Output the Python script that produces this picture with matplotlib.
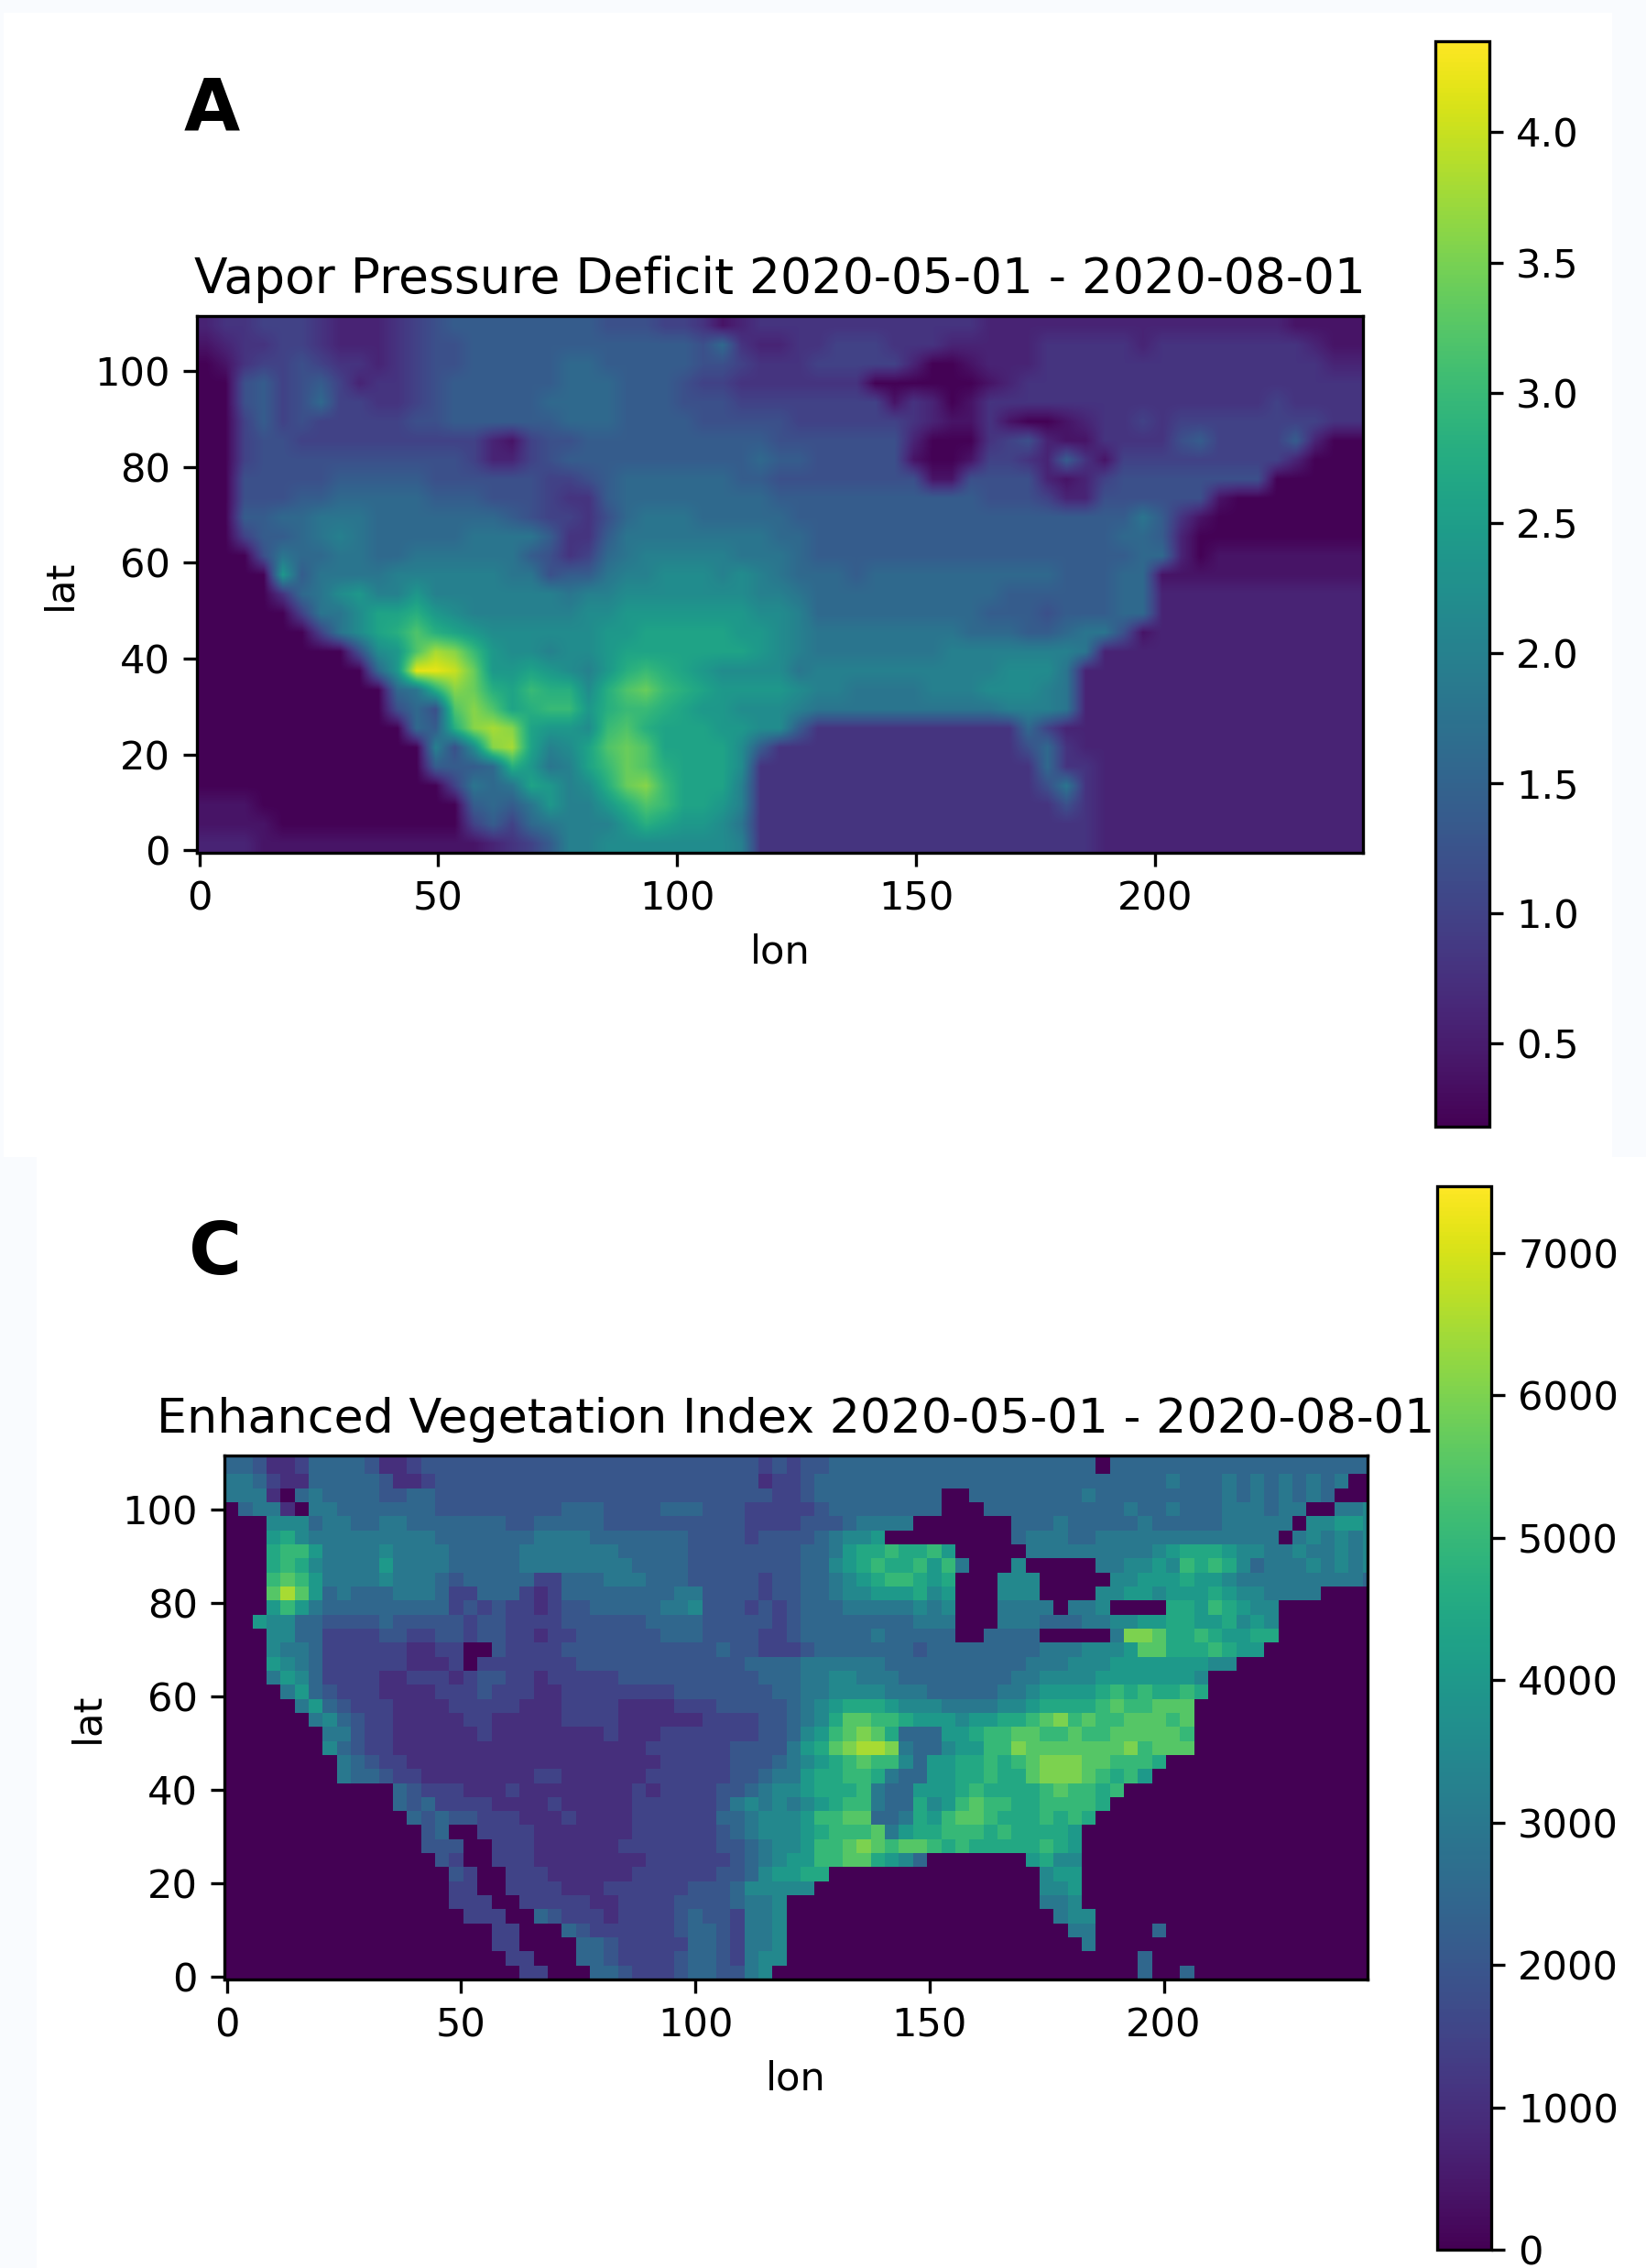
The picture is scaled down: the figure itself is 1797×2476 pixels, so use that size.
#!/usr/bin/env python3
import matplotlib
matplotlib.use("Agg")
import matplotlib.pyplot as plt
import numpy as np
from matplotlib.patches import Rectangle

W, H = 1797, 2476

plt.rcParams["font.size"] = 10.4

# values, one character per cell, top row first
# vapor pressure deficit: 4 x 4 cells, level * 0.2 + 0.2
vpd_rows = [
    "2334443222" "3456666666" "6555443123" "3333333333" "3222222222" "22222221111",
    "1233443222" "3455666666" "6666665732" "2334443332" "2222333332" "33333333211",
    "0134454332" "3455666667" "7666665543" "3344444200" "1222333333" "33333333322",
    "0056456423" "3456666667" "7766654433" "3333300000" "0123333333" "33333333333",
    "0056457443" "3456666677" "7766655544" "4444441320" "1333333333" "33333343333",
    "0046454444" "4556666667" "7766665555" "5444444321" "1310012334" "34444444433",
    "0045544444" "4444421455" "6666666666" "5555555200" "0345211333" "35644446200",
    "0045555555" "5555422456" "6666666667" "6655555100" "1443263144" "44444442000",
    "0055555666" "6655555544" "5677777766" "5555555511" "5555212455" "55555500000",
    "0055566777" "7766655543" "3677777777" "6666666666" "6555422555" "55510000000",
    "0066778887" "7777776544" "3578887777" "7666666666" "6666666668" "63100000000",
    "0046678987" "7777888863" "3688888888" "7766666666" "6666666677" "62000000000",
    "0005877887" "7888888653" "4789999988" "8766666666" "6666666667" "72011111111",
    "0000b68888" "9999998856" "6899aaa9a9" "8777677777" "7777766677" "11111111111",
    "0000378ab9" "9b99999998" "99aaaaaaa9" "9877777777" "7766666677" "22222222222",
    "00000488ac" "cdba999999" "aabbbbbbba" "a977777777" "7666566677" "22222222222",
    "00000048ac" "dfdcbaaaaa" "abbcccccbb" "a988888888" "7776678851" "22222222222",
    "000000005a" "bfihebaa9a" "abcccccccb" "a988888889" "9999998222" "22222222222",
    "0000000007" "bkkjgbbcba" "9bdedcbaaa" "a899999999" "99aaa82222" "22222222222",
    "0000000000" "78dhgdcedd" "adfgedcbbb" "ba99888899" "9aaa982222" "22222222222",
    "0000000000" "575fhfcdee" "bdeedcbbaa" "a988888888" "8899982222" "22222222222",
    "0000000000" "076dhihcbb" "aefdcccbba" "a633333333" "3337422222" "22222222222",
    "0000000000" "0095ahic9a" "cfgfcccca6" "3333333333" "3335732222" "22222222222",
    "0000000000" "006667db89" "cegfdccca3" "3333333333" "3333733222" "22222222222",
    "0000000000" "0004878cb9" "adgheccc93" "3333333333" "3333583222" "22222222222",
    "1110000000" "00006768b9" "9bdfeccb93" "3333333333" "3333353222" "22222222222",
    "1111000000" "0000464789" "99bdcbba83" "3333333333" "3333333222" "22222222222",
    "2221111111" "1111123469" "9aaaaaaa93" "3333333333" "3333333222" "22222222222",
]

# enhanced vegetation index: 3 x 3 cells, level * 500, short rows end in water
evi_rows = [
    "5542235555" "4223444444" "4444444444" "4444444434" "3445555555" "5555555555" "5505555555" "555555555555",
    "5542235555" "4223444444" "4444444444" "4444444434" "3445555555" "5555555555" "5505555555" "555555555555",
    "6653225555" "5422344444" "4444444444" "4444444423" "3455555555" "5555555555" "5555555655" "565656565600",
    "6662056555" "5445544444" "4444444444" "4444444443" "3455555555" "5005555555" "5655555555" "565656565000",
    "0566206655" "5555544444" "4444555444" "4555444333" "3345555555" "5000555555" "5555655655" "566656600667",
    "0007775665" "5665555555" "4455555444" "4444444333" "3444566660" "0000005556" "5555565555" "566666077887",
    "0008976666" "6666655555" "5566665555" "5554444344" "4456778000" "0000005666" "5566666666" "666660676767",
    "0009aa8666" "6766665555" "5666666655" "5554444444" "4556899a99" "a800000666" "6666667899" "987766766767",
    "0009a97666" "6866665555" "5666666665" "5554444444" "455789a99a" "8a60007000" "00667787a9" "a97566676767",
    "000aba8666" "6766654555" "5533555666" "5554444434" "4556789aa9" "8900077700" "0007788898" "876666666665",
    "000bdb8565" "5566653355" "5323555555" "5566444434" "4556778889" "7800077700" "0077887888" "987766660000",
    "0008a86555" "5555553434" "3323445555" "5667444343" "4555666667" "6700066660" "6670000998" "a98770000000",
    "0087755444" "4544444344" "3333444444" "5555444443" "4555555556" "6600066655" "5667788998" "897870000000",
    "0007755333" "3443344344" "3323344444" "4555444433" "4555556555" "5500555500" "0006ccb99a" "988990000000",
    "0007665333" "3332233004" "3333444444" "4444454433" "3455555554" "5555555566" "67778bb999" "a98800000000",
    "0008765333" "3332223033" "3333344444" "4444444555" "5666666555" "5555555666" "7778888888" "77",
    "0006875333" "3223332344" "3323333344" "4444444455" "5667766655" "5555556677" "7788888887",
    "0000685433" "3222233343" "3322333333" "3344444445" "5667777666" "5555566788" "889a9a99a9",
    "0000068543" "3322223333" "3222333322" "2233344444" "5678999877" "7666677899" "99abaabbb0",
    "0000006754" "3322222332" "2222333322" "2222333344" "5679bbaa98" "8878899abc" "abaabbbab0",
    "0000000664" "3322222232" "2222222322" "2333333344" "578abcb955" "5889aabbaa" "baabbbbba0",
    "0000000754" "3322222222" "2222222222" "3333334444" "689bcddc65" "5788aacbbb" "bbbbcabbb0",
    "0000000065" "4332222222" "2222222222" "2333334445" "6789abaa75" "8899a9abcc" "cbbaaa9000",
    "0000000065" "5433222222" "2233222222" "3333334456" "6899aa9655" "8899a99bcc" "cba9a80000",
    "0000000000" "0054333222" "3222222223" "2333344567" "78999a6558" "889a9999ab" "aa9a",
    "0000000000" "0054533332" "2223222223" "3333346767" "6789aa6559" "78abaa99aa" "aa9",
    "0000000000" "0005454433" "3222322223" "3333355677" "78aabb5569" "8abba999a9" "a9",
    "0000000000" "0000450033" "3322222223" "3333345677" "789aaab689" "9aaa9a9999" "8",
    "0000000000" "0000444003" "3322222233" "3333344567" "78aabcbabb" "a9a99999a9" "8",
    "0000000000" "0000043003" "3322222222" "3333334567" "88aabb9875" "0000000897" "7",
    "0000000000" "0000004300" "3332222223" "3333344578" "8990000000" "0000000078" "8",
    "0000000000" "0000003300" "3333222333" "3334445777" "7700000000" "0000000077" "8",
    "0000000000" "0000003330" "0333332233" "3344445667" "0000000000" "0000000066" "7",
    "0000000000" "0000000333" "0054333233" "3345443667" "0000000000" "0000000006" "77",
    "0000000000" "0000000003" "3000543333" "3345543667" "0000000000" "0000000000" "6600005",
    "0000000000" "0000000003" "3000055433" "3335543667" "0000000000" "0000000000" "06",
    "0000000000" "0000000000" "3300055433" "3345543677" "0000000000" "0000000000" "0000050",
    "0000000000" "0000000000" "0330005543" "3345544670" "0000000000" "0000000000" "0000050050",
]

vpd_ticks_x = [0, 50, 100, 150, 200]
vpd_ticks_y = [0, 20, 40, 60, 80, 100]
vpd_cbar_ticks = [0.5, 1.0, 1.5, 2.0, 2.5, 3.0, 3.5, 4.0]
evi_cbar_ticks = [0, 1000, 2000, 3000, 4000, 5000, 6000, 7000]


def px_axes(fig, left, top, right, bottom):
    """ axes from pixel edges measured from the top left """
    return fig.add_axes([left / W, 1 - bottom / H, (right - left) / W, (bottom - top) / H])


def decode(rows, width, base, step, offset):
    grid = [[int(ch, base) * step + offset for ch in "".join(r).ljust(width, "0")[:width]] for r in rows]
    return np.array(grid, dtype=float)[::-1]


vpd = decode(vpd_rows, 61, 36, 0.2, 0.2)
evi = decode(evi_rows, 82, 16, 500, 0)

fig = plt.figure(figsize=(W / 300, H / 300), dpi=300, facecolor="#f9fbfe")
fig.patches.append(Rectangle((4 / W, 1 - 1263 / H), 1756 / W, 1249 / H, transform=fig.transFigure, fc="white", ec="none", zorder=-1))
fig.patches.append(Rectangle((40 / W, 0), 1757 / W, 1 - 1263 / H, transform=fig.transFigure, fc="white", ec="none", zorder=-1))

ax = px_axes(fig, 215, 345, 1488, 931)
im = ax.imshow(vpd, origin="lower", cmap="viridis", vmin=0.18, vmax=4.35, interpolation="bilinear",
               extent=(-0.5, 243.5, -0.5, 111.5), aspect="auto")
ax.set_xticks(vpd_ticks_x)
ax.set_yticks(vpd_ticks_y)
ax.set_xlabel("lon")
ax.set_ylabel("lat")
ax.set_title("Vapor Pressure Deficit 2020-05-01 - 2020-08-01", fontsize=12.8)
cax = px_axes(fig, 1567, 45, 1626, 1230)
fig.colorbar(im, cax=cax, ticks=vpd_cbar_ticks)

ax = px_axes(fig, 245, 1589, 1493, 2161)
im = ax.imshow(evi, origin="lower", cmap="viridis", vmin=0, vmax=7470, interpolation="nearest",
               extent=(-0.5, 245.5, -0.5, 113.5), aspect="auto")
ax.set_xlim(-0.5, 243.5)
ax.set_ylim(-0.5, 111.5)
ax.set_xticks(vpd_ticks_x)
ax.set_yticks(vpd_ticks_y)
ax.set_xlabel("lon")
ax.set_ylabel("lat")
ax.set_title("Enhanced Vegetation Index 2020-05-01 - 2020-08-01", fontsize=12.55)
cax = px_axes(fig, 1569, 1295, 1628, 2456)
fig.colorbar(im, cax=cax, ticks=evi_cbar_ticks)

fig.text(231 / W, 1 - 119 / H, "A", fontsize=19, fontweight="bold", ha="center", va="center")
fig.text(235 / W, 1 - 1369 / H, "C", fontsize=19, fontweight="bold", ha="center", va="center")

fig.savefig("out.png", dpi=300)
